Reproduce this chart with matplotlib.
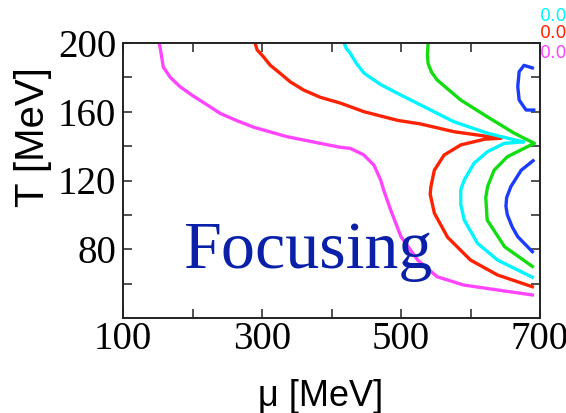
import matplotlib
matplotlib.use("Agg")
import matplotlib.pyplot as plt

# contour lines in the (mu, T) plane, read as polylines
mu_magenta = [152, 154, 158, 168, 182, 199, 221, 240, 264, 288, 336, 384, 413, 427, 446, 461, 471, 475, 485, 500, 524, 552, 590, 639, 689]
T_magenta = [200, 196, 186, 180, 174.6, 169.7, 164, 159, 154.8, 151, 145.5, 141.6, 139.3, 138.7, 135, 129, 120, 114.5, 103, 87.3, 73.7, 64, 59.2, 56.3, 53.4]

mu_red = [290, 293, 302, 312, 326, 341, 360, 384, 413, 447, 495, 528, 576, 620, 644, 620, 586, 562, 548, 543, 542, 548, 567, 600, 639, 689]
T_red = [200, 196, 192, 187, 182.4, 177.3, 172.6, 168.4, 165, 160, 155, 152.9, 148.4, 145.9, 144.6, 144, 140.7, 134.8, 126, 116.4, 112, 101, 87, 73.7, 65, 58.2]

mu_cyan = [418, 421, 427, 436, 447, 470, 495, 528, 576, 624.5, 668, 677, 648.5, 624.5, 605, 591, 586, 586, 591, 610, 639, 689]
T_cyan = [200, 197, 194, 188, 182.4, 176, 170.7, 164, 154.2, 147.5, 143.2, 142.5, 141.6, 136.8, 130, 120.3, 114.5, 106, 97, 83.5, 73.7, 63.7]

mu_green = [539, 538, 539, 544, 552, 586, 624.5, 663, 692, 682, 653, 634, 624.5, 622, 624, 649, 689]
T_green = [200, 193, 188, 183, 178.5, 166.8, 157, 147.5, 141.6, 139.7, 133.8, 126, 116.4, 110, 97, 81.5, 70]

mu_blue_hi = [689, 677, 670, 668, 670, 680, 691]
T_blue_hi = [185.5, 187, 183.3, 174.6, 166.8, 161, 161]
mu_blue_lo = [690, 673, 658, 652, 651, 653, 660, 668, 689]
T_blue_lo = [131.5, 126, 116.4, 110, 105, 100, 93, 87.3, 78.6]

xticks = [100, 200, 300, 400, 500, 600, 700]
xticklabels = ["100", "", "300", "", "500", "", "700"]
yticks = [60, 80, 100, 120, 140, 160, 180, 200]
yticklabels = ["", "80", "", "120", "", "160", "", "200"]
side_labels = ["0.0", "0.0", "0.0"]

serif = ["Liberation Serif", "DejaVu Serif"]
sans = ["Liberation Sans", "DejaVu Sans"]

fig = plt.figure(figsize=(5.66, 4.13), dpi=100)
ax = fig.add_axes([123/566, 95/413, 417/566, 275/413])

lw = 2.4
ax.plot(mu_magenta, T_magenta, color="#ff45ff", lw=lw)
ax.plot(mu_red, T_red, color="#ff2200", lw=lw)
ax.plot(mu_cyan, T_cyan, color="#00f5ff", lw=lw)
ax.plot(mu_green, T_green, color="#11dd11", lw=lw)
ax.plot(mu_blue_hi, T_blue_hi, color="#1a3cff", lw=lw)
ax.plot(mu_blue_lo, T_blue_lo, color="#1a3cff", lw=lw)

ax.set_xlim(100, 700)
ax.set_ylim(40, 200)
ax.set_xticks(xticks)
ax.set_xticklabels(xticklabels, family=serif)
ax.set_yticks(yticks)
ax.set_yticklabels(yticklabels, family=serif)
ax.tick_params(direction="in", length=6.5, width=1.1, labelsize=28,
               top=True, right=True, color="#222222")
ax.tick_params(axis="x", pad=2)
ax.tick_params(axis="y", pad=5)
for s in ax.spines.values():
    s.set_linewidth(1.4)
    s.set_color("#222222")

fig.text(33.5/566, 1 - 137/413, "T [MeV]", rotation=90, ha="center", va="center",
         fontsize=29, family=sans)
fig.text(321/566, 7/413, "\u03bc [MeV]", ha="center", va="baseline",
         fontsize=26, family=sans)

fig.text(183/566, 1 - 268/413, "Focusing", color="#0a20a8", fontsize=49,
         family=serif, ha="left", va="baseline")

for lab, col, ybase in zip(side_labels, ["#00f5ff", "#ff2200", "#ff45ff"], [21, 38, 58]):
    fig.text(540/566, 1 - ybase/413, lab, color=col, fontsize=12.5,
             family=["DejaVu Sans"], ha="left", va="baseline")

fig.savefig("out.png", dpi=100)
